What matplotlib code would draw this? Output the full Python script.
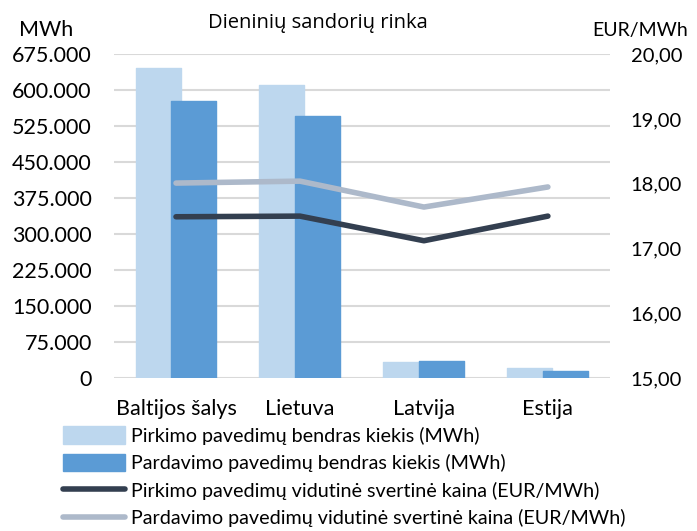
import matplotlib.pyplot as plt
import numpy as np
from matplotlib.ticker import FuncFormatter, MultipleLocator

plt.rcParams['font.family'] = ['Lato', 'DejaVu Sans']

categories = ['Baltijos šalys', 'Lietuva', 'Latvija', 'Estija']
buy_volume = [646000, 610000, 33000, 22000]
sell_volume = [578000, 546000, 36000, 15000]
buy_price = [17.49, 17.50, 17.12, 17.50]
sell_price = [18.01, 18.04, 17.64, 17.95]

labels = ['Pirkimo pavedimų bendras kiekis (MWh)',
          'Pardavimo pavedimų bendras kiekis (MWh)',
          'Pirkimo pavedimų vidutinė svertinė kaina (EUR/MWh)',
          'Pardavimo pavedimų vidutinė svertinė kaina (EUR/MWh)']

fig = plt.figure(figsize=(6.97, 5.31), dpi=100)
ax = fig.add_axes([0.1636, 0.288, 0.7114, 0.610])
ax2 = ax.twinx()

x = np.arange(len(categories))
w = 0.363
off = 0.145
b1 = ax.bar(x - off, buy_volume, w, color='#BDD7EE', edgecolor='#BDD7EE',
            linewidth=1, joinstyle='round', label=labels[0], zorder=2)
b2 = ax.bar(x + off, sell_volume, w, color='#5B9BD5', edgecolor='#5B9BD5',
            linewidth=1, joinstyle='round', label=labels[1], zorder=3)

l1, = ax2.plot(x, buy_price, color='#333F50', lw=4, solid_capstyle='round',
               label=labels[2])
l2, = ax2.plot(x, sell_price, color='#ADB9CA', lw=4, solid_capstyle='round',
               label=labels[3])

ax.set_xlim(-0.5, 3.5)
ax.set_ylim(0, 675000)
ax.yaxis.set_major_locator(MultipleLocator(75000))
ax.yaxis.set_major_formatter(FuncFormatter(lambda v, p: f"{int(round(v)):,}".replace(',', '.')))
ax.grid(axis='y', color='#D9D9D9', lw=1.5, zorder=0)
ax.set_axisbelow(True)

ax2.set_ylim(15, 20)
ax2.yaxis.set_major_locator(MultipleLocator(1))
ax2.yaxis.set_major_formatter(FuncFormatter(lambda v, p: f"{v:.2f}".replace('.', ',')))

ax.set_xticks(x)
ax.set_xticklabels(categories)

for a in (ax, ax2):
    for s in a.spines.values():
        s.set_visible(False)
    a.tick_params(length=0, labelsize=15.5, colors='#000000')
ax.tick_params(axis='y', pad=16)
ax2.tick_params(axis='y', pad=15, labelsize=14.5)
ax.tick_params(axis='x', pad=15)

fig.text(0.456, 0.956, 'Dieninių sandorių rinka', fontsize=14.5, ha='center',
         va='center', family=['Open Sans', 'DejaVu Sans'])
fig.text(0.066, 0.943, 'MWh', fontsize=15.5, ha='center', va='center')
fig.text(0.918, 0.943, 'EUR/MWh', fontsize=14, ha='center', va='center')

fig.legend([b1, b2, l1, l2], labels, loc='upper left',
           bbox_to_anchor=(0.09, 0.197), frameon=False, fontsize=14.2,
           handlelength=3.15, handleheight=1.0, labelspacing=0.45,
           handletextpad=0.3, borderpad=0, borderaxespad=0)

fig.savefig('out.png', dpi=100)
